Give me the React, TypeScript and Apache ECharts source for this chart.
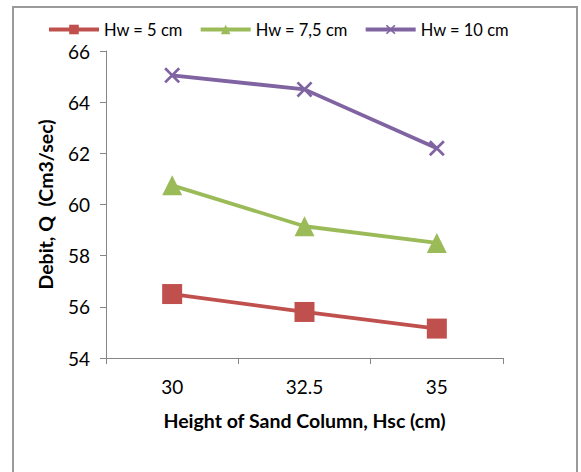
import React, { useEffect, useRef } from "react";
import * as echarts from "echarts";

const categories = ["30", "32.5", "35"];
const seriesNames = ["Hw = 5 cm", "Hw = 7,5 cm", "Hw = 10 cm"];
const hw5 = [56.5, 55.8, 55.15];
const hw75 = [60.75, 59.15, 58.5];
const hw10 = [65.05, 64.5, 62.2];
const yTicks = { min: 54, max: 66, interval: 2 };

const FONT = "Lato, 'Open Sans', sans-serif";
const crossPath =
  "path://M0,1.2 L1.2,0 L5,3.8 L8.8,0 L10,1.2 L6.2,5 L10,8.8 L8.8,10 L5,6.2 L1.2,10 L0,8.8 L3.8,5 Z";

export default function App() {
  const ref = useRef<HTMLDivElement>(null);
  useEffect(() => {
    document.body.style.margin = "0";
    const chart = echarts.init(ref.current!, null, { renderer: "svg" });
    const mk = (name: string, data: number[], color: string, symbol: string, size: number) => ({
      name,
      type: "line",
      data,
      symbol,
      symbolSize: size,
      lineStyle: { color, width: 3.8 },
      itemStyle: { color },
      emphasis: { disabled: true },
    });
    chart.setOption({
      animation: false,
      backgroundColor: "#ffffff",
      graphic: [
        {
          type: "rect",
          shape: { x: 13, y: 7, width: 564, height: 480 },
          style: { fill: "none", stroke: "#9a9a9a", lineWidth: 2 },
          silent: true,
        },
      ],
      legend: {
        left: 42,
        top: 16,
        itemWidth: 50,
        itemHeight: 12,
        itemGap: 16,
        lineStyle: { width: 4 },
        textStyle: { fontFamily: FONT, fontSize: 16.5, color: "#000", padding: [0, 0, 0, 0] },
        data: seriesNames,
      },
      grid: { left: 106, top: 51, right: 78, bottom: 114 },
      xAxis: {
        type: "category",
        data: categories,
        boundaryGap: true,
        axisLine: { lineStyle: { color: "#868686", width: 1 } },
        axisTick: { show: true, length: 6, lineStyle: { color: "#868686" } },
        axisLabel: { fontFamily: FONT, fontSize: 19, color: "#000", margin: 19 },
        name: "Height of Sand Column, Hsc (cm)",
        nameLocation: "middle",
        nameGap: 52,
        nameTextStyle: { fontFamily: FONT, fontSize: 19.5, fontWeight: "bold", color: "#000" },
      },
      yAxis: {
        type: "value",
        min: yTicks.min,
        max: yTicks.max,
        interval: yTicks.interval,
        axisLine: { show: true, lineStyle: { color: "#868686", width: 1 } },
        axisTick: { show: true, length: 6, lineStyle: { color: "#868686" } },
        splitLine: { show: false },
        axisLabel: { fontFamily: FONT, fontSize: 19, color: "#000", margin: 16 },
        name: "Debit, Q  (Cm3/sec)",
        nameLocation: "middle",
        nameGap: 51,
        nameTextStyle: { fontFamily: FONT, fontSize: 19.5, fontWeight: "bold", color: "#000" },
      },
      series: [
        mk(seriesNames[0], hw5, "#C0504D", "rect", 20),
        mk(seriesNames[1], hw75, "#9BBB59", "triangle", 20),
        mk(seriesNames[2], hw10, "#8064A2", crossPath, 16),
      ],
    });
    return () => chart.dispose();
  }, []);
  return <div ref={ref} style={{ width: 581, height: 472 }} />;
}
